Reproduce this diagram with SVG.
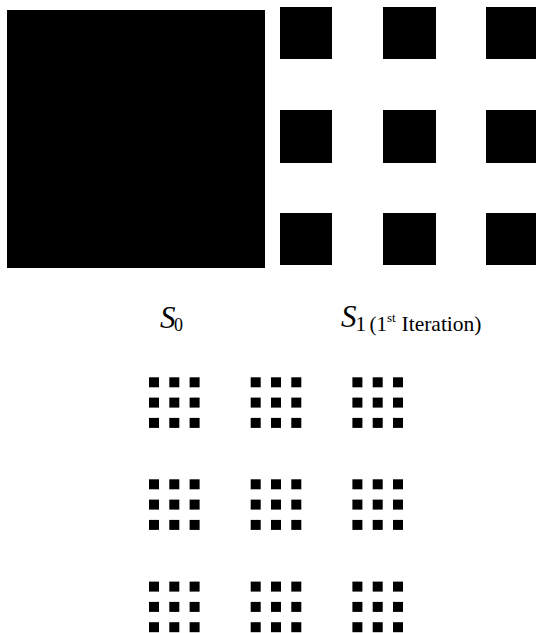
<svg xmlns="http://www.w3.org/2000/svg" width="536" height="633" viewBox="0 0 536 633">
<style>
.f{fill:#000}
.t{font-family:"Liberation Serif","Times New Roman",serif;fill:#000}
.i{font-style:italic}
.n{font-style:normal}
</style>
<defs>
<g id="cell">
<rect x="0" y="0" width="10" height="10"/><rect x="20.3" y="0" width="10" height="10"/><rect x="40.6" y="0" width="10" height="10"/>
<rect x="0" y="20.3" width="10" height="10"/><rect x="20.3" y="20.3" width="10" height="10"/><rect x="40.6" y="20.3" width="10" height="10"/>
<rect x="0" y="40.6" width="10" height="10"/><rect x="20.3" y="40.6" width="10" height="10"/><rect x="40.6" y="40.6" width="10" height="10"/>
</g>
</defs>
<rect width="536" height="633" fill="#fff"/>
<g id="S0" class="f"><rect x="7" y="10" width="258" height="258"/></g>
<g id="S1" class="f">
<rect x="280" y="7" width="52" height="52"/><rect x="383" y="7" width="53" height="52"/><rect x="486" y="7" width="52" height="52"/>
<rect x="280" y="110" width="52" height="53"/><rect x="383" y="110" width="53" height="53"/><rect x="486" y="110" width="52" height="53"/>
<rect x="280" y="213" width="52" height="52"/><rect x="383" y="213" width="53" height="52"/><rect x="486" y="213" width="52" height="52"/>
</g>
<g id="S2" class="f">
<use href="#cell" x="149" y="377.3"/><use href="#cell" x="250.7" y="377.3"/><use href="#cell" x="352.4" y="377.3"/>
<use href="#cell" x="149" y="479.3"/><use href="#cell" x="250.7" y="479.3"/><use href="#cell" x="352.4" y="479.3"/>
<use href="#cell" x="149" y="581.6"/><use href="#cell" x="250.7" y="581.6"/><use href="#cell" x="352.4" y="581.6"/>
</g>
<g id="label-S0">
<text class="t i" x="160" y="328" font-size="31">S<tspan class="n" x="174" y="331" font-size="18">0</tspan></text>
</g>
<g id="label-S1">
<text class="t i" x="341" y="327" font-size="31">S<tspan class="n" x="355.5" y="331" font-size="21">1</tspan><tspan class="n" x="369.5" y="331" font-size="21">(1</tspan><tspan class="n" x="387" y="322" font-size="13">st</tspan><tspan class="n" x="401.5" y="331" font-size="21.5">Iteration)</tspan></text>
</g>
</svg>
